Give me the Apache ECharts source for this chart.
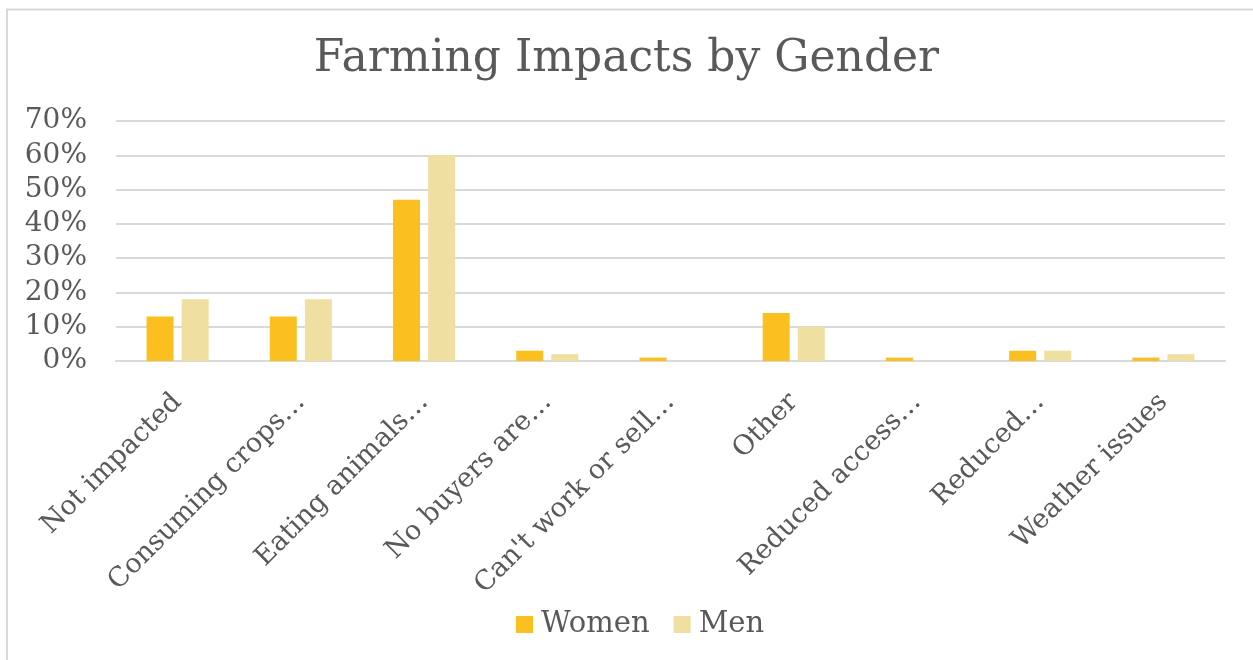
<!DOCTYPE html>
<html>
<head>
<meta charset="utf-8">
<script src="https://cdn.jsdelivr.net/npm/echarts@6/dist/echarts.min.js"></script>
<style>
  html, body { margin: 0; padding: 0; background: #fff; }
  #chart { width: 1253px; height: 660px; }
</style>
</head>
<body>
<div id="chart"></div>
<script>
// Farming impact categories and the share of respondents (in %) by gender
const categories = [
  'Not impacted',
  'Consuming crops…',
  'Eating animals…',
  'No buyers are…',
  "Can't work or sell…",
  'Other',
  'Reduced access…',
  'Reduced…',
  'Weather issues'
];
const women = [13, 13, 47, 3, 1, 14, 1, 3, 1];
const men = [18, 18, 60, 2, 0, 10, 0, 3, 2];
const yTicks = [0, 10, 20, 30, 40, 50, 60, 70];

const FONT = 'DejaVu Serif';
const TEXT = '#595959';

const chart = echarts.init(document.getElementById('chart'), null, { renderer: 'canvas' });
chart.setOption({
  backgroundColor: '#fff',
  animation: false,
  textStyle: { fontFamily: FONT, color: TEXT },
  title: {
    text: 'Farming Impacts by Gender',
    left: 'center',
    top: 33,
    textStyle: { fontFamily: FONT, fontSize: 44, fontWeight: 'normal', color: TEXT }
  },
  legend: {
    bottom: 16,
    left: 511,
    itemWidth: 17,
    itemHeight: 17,
    itemGap: 24,
    icon: 'rect',
    textStyle: { fontFamily: FONT, fontSize: 29, color: TEXT, padding: [0, 0, 0, 3] },
    data: ['Women', 'Men']
  },
  grid: { left: 116, right: 28, top: 121, bottom: 299, containLabel: false },
  xAxis: {
    type: 'category',
    data: categories,
    axisLine: { show: true, lineStyle: { color: '#D9D9D9', width: 2 } },
    axisTick: { show: false },
    axisLabel: {
      interval: 0,
      rotate: 45,
      margin: 37,
      fontFamily: FONT,
      fontSize: 27,
      color: TEXT
    }
  },
  yAxis: {
    type: 'value',
    min: yTicks[0],
    max: yTicks[yTicks.length - 1],
    interval: 10,
    axisLine: { show: false },
    axisTick: { show: false },
    splitLine: { lineStyle: { color: '#D9D9D9', width: 2 } },
    axisLabel: {
      margin: 29,
      fontFamily: FONT,
      fontSize: 28,
      color: TEXT,
      padding: [7, 0, 0, 0],
      formatter: v => v + '%'
    }
  },
  series: [
    {
      name: 'Women',
      type: 'bar',
      data: women,
      barWidth: 27,
      barGap: '30%',
      itemStyle: { color: '#FBC020' }
    },
    {
      name: 'Men',
      type: 'bar',
      data: men,
      barWidth: 27,
      itemStyle: { color: '#EFE0A1' }
    }
  ],
  graphic: [
    // chart frame: top and left edges
    { type: 'line', shape: { x1: 6, y1: 9.5, x2: 1253, y2: 9.5 }, style: { stroke: '#D9D9D9', lineWidth: 2 }, silent: true },
    { type: 'line', shape: { x1: 7, y1: 9, x2: 7, y2: 660 }, style: { stroke: '#D9D9D9', lineWidth: 2 }, silent: true }
  ]
});
</script>
</body>
</html>
